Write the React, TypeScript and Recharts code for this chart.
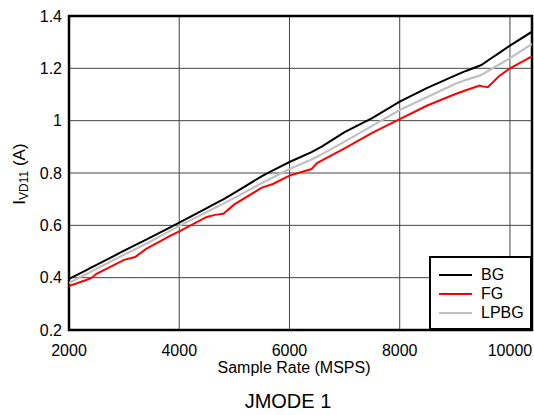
import { CartesianGrid, Legend, Line, LineChart, ReferenceArea, XAxis, YAxis } from "recharts";

const rates = [
  2000, 2300, 2400, 2500, 3000, 3200, 3400, 3800, 4000, 4500, 4650, 4800, 5000, 5500, 5700, 6000,
  6400, 6500, 6600, 7000, 7500, 8000, 8500, 9000, 9200, 9450, 9500, 9600, 9800, 10000, 10400,
];
const bg = [
  0.395, 0.427, 0.438, 0.449, 0.503, 0.524, 0.545, 0.588, 0.61, 0.666, 0.683, 0.699, 0.724, 0.788, 0.81, 0.842,
  0.88, 0.891, 0.903, 0.956, 1.01, 1.073, 1.125, 1.172, 1.19, 1.21, 1.215, 1.23, 1.258, 1.287, 1.34,
];
const fg = [
  0.368, 0.39, 0.398, 0.415, 0.468, 0.479, 0.51, 0.556, 0.577, 0.632, 0.64, 0.644, 0.68, 0.744, 0.758, 0.79,
  0.815, 0.838, 0.849, 0.894, 0.953, 1.006, 1.058, 1.101, 1.116, 1.134, 1.131, 1.128, 1.17, 1.2, 1.246,
];
const lpbg = [
  0.38, 0.412, 0.423, 0.434, 0.488, 0.509, 0.53, 0.575, 0.598, 0.651, 0.667, 0.683, 0.705, 0.762, 0.783, 0.815,
  0.852, 0.862, 0.873, 0.92, 0.98, 1.041, 1.09, 1.14, 1.156, 1.172, 1.177, 1.19, 1.214, 1.239, 1.293,
];
const xTicks = [2000, 4000, 6000, 8000, 10000];
const yTicks = [0.2, 0.4, 0.6, 0.8, 1, 1.2, 1.4];

const data = rates.map((r, i) => ({ rate: r, BG: bg[i], FG: fg[i], LPBG: lpbg[i] }));

const font = "'Liberation Sans', Arial, Helvetica, sans-serif";

function LegendBox({ payload }: any) {
  return (
    <div
      style={{
        width: 103,
        height: 74,
        boxSizing: "border-box",
        border: "2px solid #000",
        background: "#fff",
        paddingTop: 7,
        fontFamily: font,
        fontSize: 16,
      }}
    >
      {(payload || []).map((p: any) => (
        <div key={p.value} style={{ display: "flex", alignItems: "center", height: 19 }}>
          <span style={{ display: "inline-block", marginLeft: 8, width: 33, height: 2, background: p.color }} />
          <span style={{ marginLeft: 9, lineHeight: "19px" }}>{p.value}</span>
        </div>
      ))}
    </div>
  );
}

export default function App() {
  return (
    <div style={{ position: "absolute", left: 0, top: 0, width: 534, height: 415, fontFamily: font }}>
      <LineChart width={534} height={415} data={data} margin={{ top: 16, right: 2, bottom: 45, left: 0 }}>
        <CartesianGrid stroke="#444" strokeWidth={1} />
        <XAxis
          dataKey="rate"
          type="number"
          domain={[2000, 10400]}
          ticks={xTicks}
          allowDataOverflow
          height={40}
          axisLine={false}
          tickLine={false}
          tickSize={0}
          tickMargin={15}
          tick={{ fill: "#000", fontSize: 16, fontFamily: font }}
          label={{
            content: () => (
              <g fontFamily={font} fill="#000" textAnchor="middle">
                <text x={294} y={373} fontSize={16}>Sample Rate (MSPS)</text>
                <text x={288} y={408} fontSize={20}>JMODE 1</text>
              </g>
            ),
          }}
        />
        <YAxis
          type="number"
          domain={[0.2, 1.4]}
          ticks={yTicks}
          width={69}
          axisLine={false}
          tickLine={false}
          tickSize={0}
          tickMargin={7}
          tick={{ fill: "#000", fontSize: 16, fontFamily: font }}
          label={{
            content: () => (
              <text transform="translate(25,174) rotate(-90)" textAnchor="middle" fontSize={17} fontFamily={font} fill="#000">
                I<tspan fontSize={12} dy={3}>VD11</tspan>
                <tspan dy={-3}> (A)</tspan>
              </text>
            ),
          }}
        />
        <Line type="linear" dataKey="LPBG" name="LPBG" stroke="#c0c0c0" strokeWidth={2.2} dot={false} isAnimationActive={false} />
        <Line type="linear" dataKey="FG" name="FG" stroke="#ff0000" strokeWidth={2} dot={false} isAnimationActive={false} />
        <Line type="linear" dataKey="BG" name="BG" stroke="#000" strokeWidth={2} dot={false} isAnimationActive={false} />
        <ReferenceArea x1={2000} x2={10400} y1={0.2} y2={1.4} fill="none" stroke="#000" strokeWidth={2.5} />
        <Legend
          layout="vertical"
          align="center"
          verticalAlign="middle"
          content={(props: any) => {
            const order = ["BG", "FG", "LPBG"];
            const payload = [...(props.payload || [])].sort(
              (a: any, b: any) => order.indexOf(a.value) - order.indexOf(b.value)
            );
            return <LegendBox payload={payload} />;
          }}
          wrapperStyle={{ position: "absolute", left: 429, top: 256, width: 103, height: 74 }}
        />
      </LineChart>
    </div>
  );
}
